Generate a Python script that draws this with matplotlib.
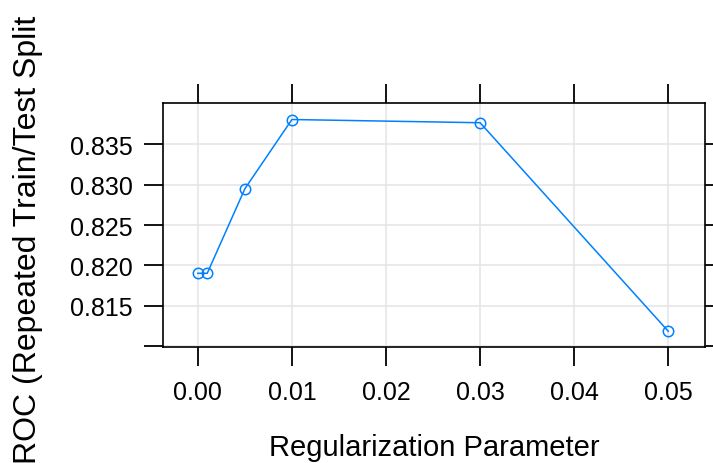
import matplotlib
matplotlib.use("Agg")
import matplotlib.pyplot as plt

reg_param = [0.0, 0.001, 0.005, 0.01, 0.03, 0.05]
roc = [0.8190, 0.8190, 0.8295, 0.8381, 0.8377, 0.8118]
xticks = [0.00, 0.01, 0.02, 0.03, 0.04, 0.05]
xticklabels = ["0.00", "0.01", "0.02", "0.03", "0.04", "0.05"]
yticks = [0.810, 0.815, 0.820, 0.825, 0.830, 0.835]
yticklabels = ["", "0.815", "0.820", "0.825", "0.830", "0.835"]

plt.rcParams['font.family'] = ['Liberation Sans', 'DejaVu Sans']

fig = plt.figure(figsize=(7.13, 4.64), dpi=100)
ax = fig.add_axes([163/713, 1-348/464, (705-163)/713, (348-104)/464])

ax.plot(reg_param, roc, color='#0080ff', lw=1.1, marker='o', markersize=7.5,
        markerfacecolor='none', markeredgecolor='#0080ff', markeredgewidth=1.1, zorder=3)

ax.set_xlim(-0.0037, 0.0539)
ax.set_ylim(0.80985, 0.84015)
ax.set_xticks(xticks)
ax.set_xticklabels(xticklabels)
ax.set_yticks(yticks)
ax.set_yticklabels(yticklabels)
ax.grid(True, color='#e6e6e6', lw=1.2, zorder=0)
ax.set_axisbelow(True)

ax.tick_params(axis='both', which='both', direction='out', length=14, width=1.3,
               labelsize=18, colors='black', top=True, right=True,
               labeltop=False, labelright=False)
ax.tick_params(axis='x', pad=10)
ax.tick_params(axis='y', pad=8)
for s in ax.spines.values():
    s.set_linewidth(1.2)
    s.set_color('black')

ax.set_xlabel("Regularization Parameter", fontsize=21, labelpad=21)
fig.text(28/713, 1-240/464, "ROC (Repeated Train/Test Split", rotation=90,
         fontsize=23, ha='center', va='center')

fig.savefig("out.png", dpi=100)
